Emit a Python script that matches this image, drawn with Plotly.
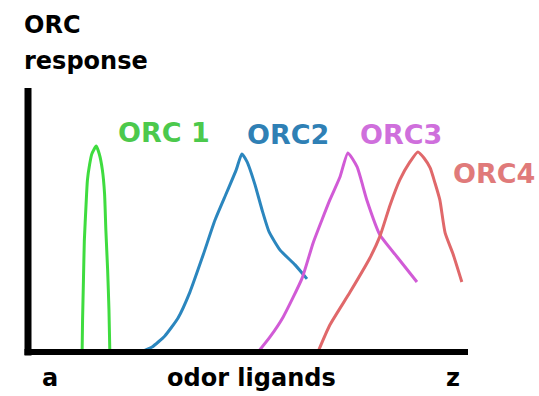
import plotly.graph_objects as go

# Ligand position along the odor space (0 = "a", 100 = "z") and response (% of axis height)
orc1_x = [12.3, 12.4, 12.6, 12.8, 13.2, 13.5, 14.0, 14.5, 15.5, 16.2, 16.9, 17.4, 17.7, 18.1, 18.4, 18.6]
orc1_y = [0, 12, 27, 42, 56, 65, 71, 75, 78, 75, 69, 60, 46, 31, 16, 0]

orc2_x = [25.5, 28.2, 31.1, 34.1, 36.8, 39.8, 42.5, 45.2, 47.3, 48.6, 49.8, 51.6, 53.2, 54.8, 57.3, 60.7, 63.4]
orc2_y = [0, 1.9, 6.1, 12.9, 22.7, 36.7, 50.0, 60.6, 68.9, 75.0, 72.0, 63.3, 53.8, 45.5, 38.6, 33.0, 27.7]

orc3_x = [52.3, 55.0, 58.0, 62.3, 64.8, 66.8, 68.6, 70.9, 72.7, 74.8, 77.0, 80.0, 83.9, 88.4]
orc3_y = [0, 5.7, 13.3, 28.0, 41.3, 50.0, 57.6, 66.3, 75.4, 70.1, 57.6, 44.3, 36.0, 26.5]

orc4_x = [65.9, 68.6, 73.2, 77.7, 80.0, 82.3, 84.5, 86.8, 88.6, 90.0, 91.4, 92.5, 93.6, 94.8, 96.6, 98.6]
orc4_y = [0, 10.2, 22.7, 35.6, 43.9, 55.7, 65.2, 72.0, 75.8, 73.5, 69.7, 64.0, 57.6, 45.1, 37.1, 26.5]

series_names = ["ORC 1", "ORC2", "ORC3", "ORC4"]
line_colors = ["#3fdc3f", "#2b86be", "#d15bd6", "#e0686a"]
label_colors = ["#4cc94c", "#2f80b5", "#cf6fdc", "#e07a7a"]
label_pos = [(30.8, 83.0), (59.0, 82.2), (84.7, 82.2), (105.8, 67.8)]

axis_labels = ["a", "odor ligands", "z"]
axis_label_x = [5.0, 50.9, 96.6]

fig = go.Figure()
for xs, ys, name, col in zip([orc1_x, orc2_x, orc3_x, orc4_x],
                             [orc1_y, orc2_y, orc3_y, orc4_y],
                             series_names, line_colors):
    fig.add_trace(go.Scatter(x=xs, y=ys, mode="lines", name=name,
                             line=dict(color=col, width=3, shape="spline", smoothing=0.5),
                             hoverinfo="skip"))

# Axis lines
fig.add_shape(type="line", x0=0, x1=0, y0=-1.3, y1=100, xref="x", yref="y",
              line=dict(color="black", width=7))
fig.add_shape(type="line", x0=-0.8, x1=100, y0=0, y1=0, xref="x", yref="y",
              line=dict(color="black", width=6))

black_font = dict(family="DejaVu Sans", size=24, color="black", weight="bold")

for (lx, ly), name, col in zip(label_pos, series_names, label_colors):
    fig.add_annotation(x=lx, y=ly, text=name, showarrow=False, xanchor="center", yanchor="middle",
                       font=dict(family="DejaVu Sans", size=27, color=col, weight="bold"))

fig.add_annotation(x=-1.4, y=123.9, text="ORC", showarrow=False, xanchor="left", yanchor="middle",
                   font=black_font)
fig.add_annotation(x=-1.4, y=110.2, text="response", showarrow=False, xanchor="left", yanchor="middle",
                   font=black_font)
for t, ax_x in zip(axis_labels, axis_label_x):
    fig.add_annotation(x=ax_x, y=-9.8, text=t, showarrow=False, xanchor="center", yanchor="middle",
                       font=black_font)

fig.update_layout(
    width=539, height=396,
    margin=dict(l=0, r=0, t=0, b=0),
    paper_bgcolor="white", plot_bgcolor="white",
    showlegend=False,
    xaxis=dict(range=[-6.364, 116.136], visible=False, fixedrange=True),
    yaxis=dict(range=[-16.667, 133.333], visible=False, fixedrange=True),
)

fig.write_html("out.html")
